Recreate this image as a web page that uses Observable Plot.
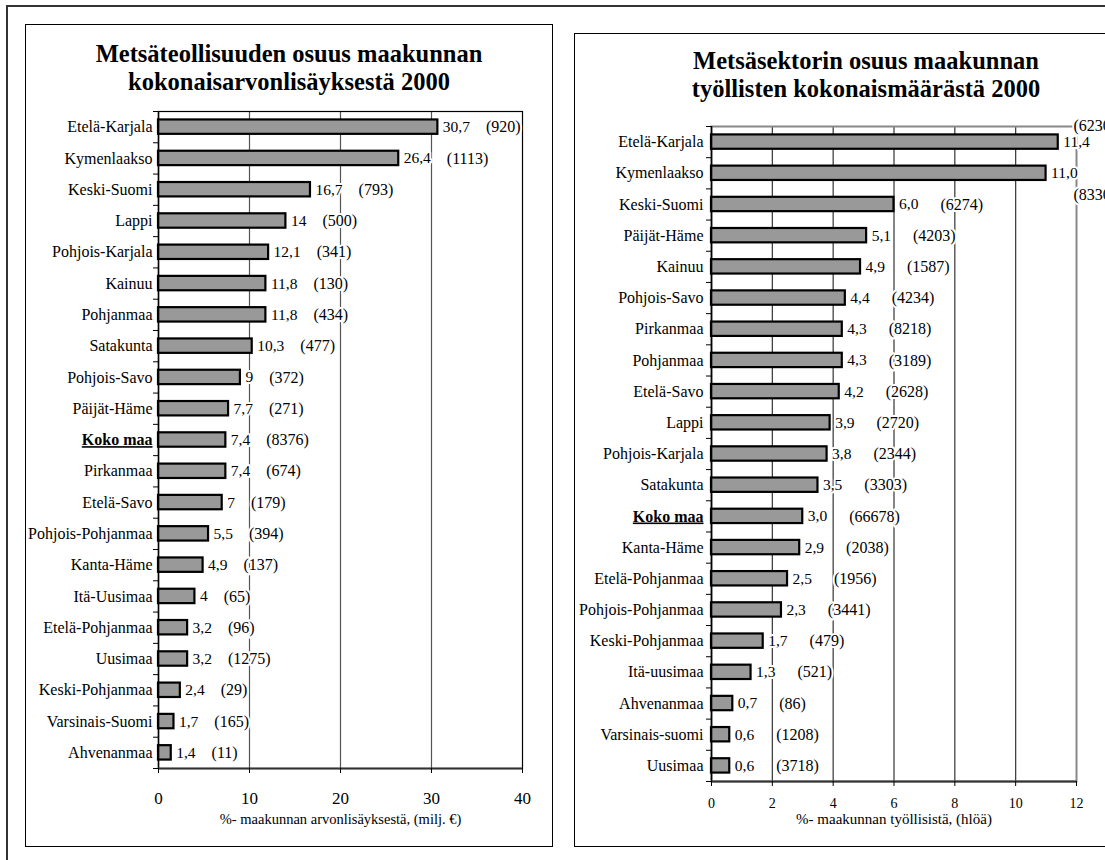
<!DOCTYPE html>
<html><head><meta charset="utf-8">
<script src="https://cdn.jsdelivr.net/npm/d3@7"></script>
<script src="https://cdn.jsdelivr.net/npm/@observablehq/plot@0.6"></script>
<style>
html,body{margin:0;padding:0;background:#fff;overflow:hidden;}
#root{position:relative;width:1105px;height:860px;overflow:hidden;font-family:"Liberation Serif","Times New Roman",serif;}
.box{position:absolute;box-sizing:border-box;}
.title{position:absolute;text-align:center;font-weight:bold;font-size:24.5px;line-height:28px;color:#000;white-space:nowrap;}
.chart{position:absolute;}
</style></head><body><div id="root"></div>
<script>
// ---- data: left chart (value added share) ----
const leftTitle = ["Metsäteollisuuden osuus maakunnan", "kokonaisarvonlisäyksestä 2000"];
const leftCategories = ["Etelä-Karjala","Kymenlaakso","Keski-Suomi","Lappi","Pohjois-Karjala","Kainuu","Pohjanmaa","Satakunta","Pohjois-Savo","Päijät-Häme","Koko maa","Pirkanmaa","Etelä-Savo","Pohjois-Pohjanmaa","Kanta-Häme","Itä-Uusimaa","Etelä-Pohjanmaa","Uusimaa","Keski-Pohjanmaa","Varsinais-Suomi","Ahvenanmaa"];
const leftShares = [30.7,26.4,16.7,14,12.1,11.8,11.8,10.3,9,7.7,7.4,7.4,7,5.5,4.9,4,3.2,3.2,2.4,1.7,1.4];
const leftAmounts = [920,1113,793,500,341,130,434,477,372,271,8376,674,179,394,137,65,96,1275,29,165,11];
const leftTicks = [0,10,20,30,40];
const leftXLabel = "%- maakunnan arvonlisäyksestä, (milj. €)";

// ---- data: right chart (employment share) ----
const rightTitle = ["Metsäsektorin osuus maakunnan", "työllisten kokonaismäärästä 2000"];
const rightCategories = ["Etelä-Karjala","Kymenlaakso","Keski-Suomi","Päijät-Häme","Kainuu","Pohjois-Savo","Pirkanmaa","Pohjanmaa","Etelä-Savo","Lappi","Pohjois-Karjala","Satakunta","Koko maa","Kanta-Häme","Etelä-Pohjanmaa","Pohjois-Pohjanmaa","Keski-Pohjanmaa","Itä-uusimaa","Ahvenanmaa","Varsinais-suomi","Uusimaa"];
const rightShares = [11.4,11.0,6.0,5.1,4.9,4.4,4.3,4.3,4.2,3.9,3.8,3.5,3.0,2.9,2.5,2.3,1.7,1.3,0.7,0.6,0.6];
const rightPersons = [6230,8330,6274,4203,1587,4234,8218,3189,2628,2720,2344,3303,66678,2038,1956,3441,479,521,86,1208,3718];
const rightTicks = [0,2,4,6,8,10,12];
const rightXLabel = "%- maakunnan työllisistä, (hlöä)";

const FONT = "Liberation Serif, Times New Roman, serif";
const VALUE_FONT = 15.5, COUNT_FONT = 16;
const root = document.getElementById("root");
const ctx = document.createElement("canvas").getContext("2d");
function textWidth(s, size){ ctx.font = `${size}px "Liberation Serif"`; return ctx.measureText(s).width; }

function addBox(l,t,w,h,css){const d=document.createElement("div");d.className="box";d.style.cssText=`left:${l}px;top:${t}px;width:${w}px;height:${h}px;${css}`;root.appendChild(d);}
function addTitle(lines, l, t, w){const d=document.createElement("div");d.className="title";d.style.cssText=`left:${l}px;top:${t}px;width:${w}px;`;d.innerHTML=lines.join("<br>");root.appendChild(d);}

function chart(o){
  const n = o.cats.length;
  const pxPer = (o.width-o.ml-o.mr)/o.xMax;
  const rows = o.cats.map((c,i)=>{
    const label = o.fmt(o.shares[i]);
    const off = 5 + textWidth(label, VALUE_FONT) + o.gap;           // pixels right of bar end
    const cw = textWidth(`(${o.counts[i]})`, COUNT_FONT);
    return {c, i, v:o.shares[i], n:o.counts[i], label, cx: o.shares[i] + off/pxPer,
            over: o.ml + o.shares[i]*pxPer + off + cw > o.width};
  });
  const normal = rows.filter(d=>!d.over);
  const over = rows.filter(d=>d.over);
  const bounds = d3.range(n+1).map(k=>k-0.5);
  const halo = {stroke:"white", strokeWidth:4, fill:"#000", fontFamily:FONT};
  const plot = Plot.plot({
    width:o.width, height:o.height,
    marginTop:o.mt, marginRight:o.mr, marginBottom:o.mb, marginLeft:o.ml,
    style:{fontFamily:FONT, fontSize:"15px", background:"transparent", color:"#000"},
    x:{domain:[0,o.xMax], axis:null},
    y:{domain:[n-0.5,-0.5], axis:null},
    marks:[
      Plot.ruleX(o.ticks.slice(1,-1), {stroke:o.gridColor, strokeWidth:1.2}),
      Plot.frame({stroke:o.frameColor, strokeWidth:o.frameWidth}),
      Plot.text(normal, {x:"cx", y:"i", text:d=>`(${d.n})`, textAnchor:"start", fontSize:COUNT_FONT, ...halo}),
      Plot.text(over, {x:o.xMax, y:"i", text:d=>`(${d.n}`, dx:-3, textAnchor:"start", fontSize:COUNT_FONT, ...halo}),
      Plot.text(rows, {x:"v", y:"i", text:"label", dx:5, textAnchor:"start", fontSize:VALUE_FONT, ...halo}),
      Plot.rectX(rows, {x1:0, x2:"v", y1:d=>d.i-0.23, y2:d=>d.i+0.23, fill:"#999999", stroke:"#000", strokeWidth:2.2}),
      Plot.ruleX([0], {stroke:"#000", strokeWidth:1.5}),
      Plot.ruleY([n-0.5], {stroke:"#333", strokeWidth:1.8}),
      Plot.axisY(bounds, {tickSize:5, tickFormat:()=>"", stroke:"#000", label:null}),
      Plot.axisY(d3.range(n), {tickSize:0, tickPadding:o.yPad, tickFormat:i=>o.cats[i], fontSize:16, fontFamily:FONT, label:null}),
      Plot.axisX(o.ticks, {tickSize:5, tickPadding:o.xPad, fontSize:o.xFont, fontFamily:FONT, label:null, stroke:"#000"}),
      Plot.text([o.xLabel], {frameAnchor:"bottom", dy:o.labelDy, fontSize:o.labelFont, fontFamily:FONT, fill:"#000"})
    ]
  });
  // Labels that do not fit beside the bar: first sits on the top edge, second below its row
  d3.select(plot).selectAll("text").filter(function(){return /^\(\d+$/.test(this.textContent);})
    .each(function(_,k){ d3.select(this).attr("dy", k===0 ? "-16" : "22"); });
  d3.select(plot).selectAll("text").filter(function(){return this.textContent==="Koko maa";})
    .attr("font-weight","bold").style("text-decoration","underline");
  plot.classList.add("chart");
  plot.style.left=o.left+"px"; plot.style.top=o.top+"px"; plot.style.position="absolute";
  root.appendChild(plot);
}

// outer frame and panels
addBox(6,5,1130,880,"border:2px solid #333;");
addBox(25,24,528,823,"border:1.5px solid #000;");
addBox(574,33,600,814,"border:1.5px solid #000;");
addTitle(leftTitle, 25, 40, 528);
addTitle(rightTitle, 574, 47, 584);

const fmtLeft = v => String(v).replace(".", ",");
const fmtRight = v => v.toFixed(1).replace(".", ",");

chart({cats:leftCategories, shares:leftShares, counts:leftAmounts, fmt:fmtLeft, xMax:40, ticks:leftTicks,
  width:528, height:823, mt:87, mr:31, mb:79, ml:133, left:25, top:24,
  xLabel:leftXLabel, gap:16, gridColor:"#555", frameColor:"#000", frameWidth:1.2,
  yPad:6, xPad:18, xFont:17, labelDy:55, labelFont:14.5});
chart({cats:rightCategories, shares:rightShares, counts:rightPersons, fmt:fmtRight, xMax:12, ticks:rightTicks,
  width:531, height:814, mt:93, mr:29, mb:66, ml:137, left:574, top:33,
  xLabel:rightXLabel, gap:22, gridColor:"#333", frameColor:"#888", frameWidth:2,
  yPad:8, xPad:12, xFont:14, labelDy:42, labelFont:15});
</script></body></html>
